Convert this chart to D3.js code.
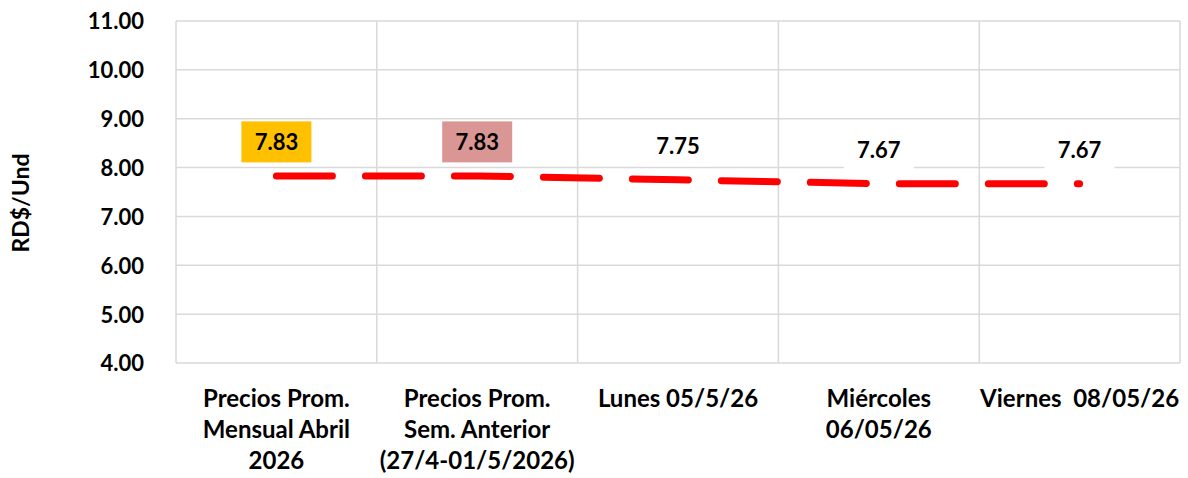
<!DOCTYPE html>
<html>
<head>
<meta charset="utf-8">
<style>
  body { margin: 0; background: #fff; }
  svg text { font-family: Lato, "Open Sans", sans-serif; font-weight: bold; fill: #000; }
  .grid line { stroke: #d9d9d9; stroke-width: 1.5; }
  .line { fill: none; stroke: #ff0000; stroke-width: 7; stroke-linecap: round; stroke-dasharray: 56 33; }
</style>
</head>
<body>
<svg class="chart"></svg>
<script src="https://cdnjs.cloudflare.com/ajax/libs/d3/7.8.5/d3.min.js"></script>
<script>
var categories = [
  ["Precios Prom.", "Mensual Abril", "2026"],
  ["Precios Prom.", "Sem. Anterior", "(27/4-01/5/2026)"],
  ["Lunes 05/5/26"],
  ["Miércoles", "06/05/26"],
  ["Viernes  08/05/26"]
];
var values = [7.83, 7.83, 7.75, 7.67, 7.67];
var labelFills = ["#ffc000", "#da9694", "#fff", "#fff", "#fff"];
var yTicks = [4, 5, 6, 7, 8, 9, 10, 11];

var w = 1188, h = 478;
var m = { left: 176, right: 1180, top: 21, bottom: 363 };

var svg = d3.select(".chart").attr("width", w).attr("height", h);

var x = d3.scaleBand().domain(d3.range(categories.length)).range([m.left, m.right]);
var y = d3.scaleLinear().domain([4, 11]).range([m.bottom, m.top]);

// horizontal gridlines
svg.append("g").attr("class", "grid")
  .selectAll("line").data(yTicks).enter().append("line")
  .attr("x1", m.left).attr("x2", m.right)
  .attr("y1", d => y(d)).attr("y2", d => y(d));

// vertical gridlines at category boundaries
var bounds = d3.range(categories.length + 1).map(i => m.left + i * x.bandwidth());
svg.append("g").attr("class", "grid")
  .selectAll("line").data(bounds).enter().append("line")
  .attr("x1", d => d).attr("x2", d => d)
  .attr("y1", m.top).attr("y2", m.bottom);

// y axis labels
var yAxis = d3.axisLeft(y).tickValues(yTicks).tickFormat(d3.format(".2f")).tickSize(0).tickPadding(32);
var ya = svg.append("g").attr("transform", "translate(" + m.left + ",0)").call(yAxis);
ya.select(".domain").remove();
ya.selectAll("text").style("font-size", "22px").attr("dy", "0.36em");

// axis title
svg.append("text")
  .attr("transform", "translate(29,203) rotate(-90)")
  .attr("text-anchor", "middle")
  .style("font-size", "23px")
  .text("RD$/Und");

// x labels
var xl = svg.append("g").selectAll("text").data(categories).enter().append("text")
  .attr("text-anchor", "middle")
  .attr("xml:space", "preserve")
  .style("white-space", "pre")
  .style("font-size", "24px");
xl.selectAll("tspan").data((d, i) => d.map(t => ({ t: t, i: i }))).enter().append("tspan")
  .attr("x", d => x(d.i) + x.bandwidth() / 2)
  .attr("y", (d, j) => 407 + j * 31)
  .text(d => d.t);

// line
var line = d3.line().x((d, i) => x(i) + x.bandwidth() / 2).y(d => y(d));
svg.append("path").datum(values).attr("class", "line").attr("d", line);

// data labels
var lab = svg.append("g").selectAll("g").data(values).enter().append("g")
  .attr("transform", (d, i) => "translate(" + (x(i) + x.bandwidth() / 2) + "," + (y(d) - 34) + ")");
lab.append("rect")
  .attr("x", -35).attr("y", -20.5).attr("width", 70).attr("height", 41)
  .attr("fill", (d, i) => labelFills[i]);
lab.append("text")
  .attr("text-anchor", "middle").attr("dy", "0.36em")
  .style("font-size", "22px")
  .text(d => d.toFixed(2));
</script>
</body>
</html>
